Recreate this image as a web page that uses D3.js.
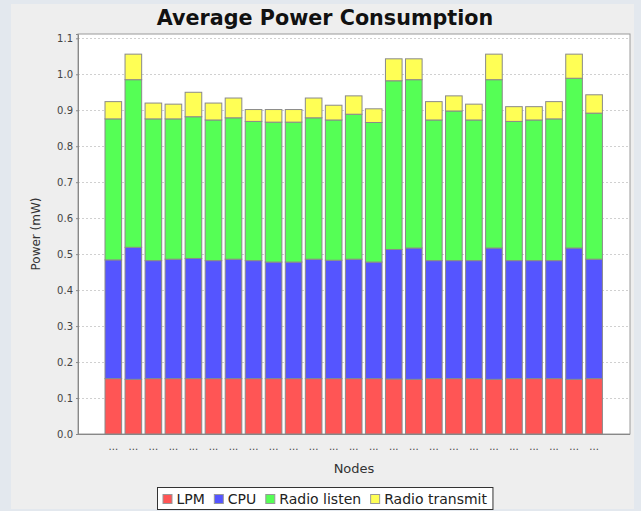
<!DOCTYPE html>
<html>
<head>
<meta charset="utf-8">
<script src="https://cdn.jsdelivr.net/npm/d3@7"></script>
<style>
  html, body { margin: 0; padding: 0; background: #e3e8ee; }
  svg { display: block; font-family: "DejaVu Sans", sans-serif; }
</style>
</head>
<body>
<div id="chart"></div>
<script>
// one entry per node, tick labels are truncated in the original
const nodes = d3.range(25).map(i => "node" + (i + 1));
const tickLabels = nodes.map(() => "...");
const seriesNames = ["LPM", "CPU", "Radio listen", "Radio transmit"];
const lpm = [0.154, 0.152, 0.154, 0.154, 0.154, 0.154, 0.154, 0.154, 0.154, 0.154, 0.154, 0.154, 0.154,
  0.154, 0.153, 0.152, 0.154, 0.154, 0.154, 0.152, 0.154, 0.154, 0.154, 0.152, 0.154];
const cpu = [0.330, 0.367, 0.328, 0.332, 0.334, 0.328, 0.332, 0.328, 0.324, 0.324, 0.332, 0.329, 0.332,
  0.324, 0.360, 0.365, 0.328, 0.328, 0.328, 0.365, 0.328, 0.328, 0.328, 0.365, 0.332];
const listen = [0.392, 0.466, 0.394, 0.390, 0.394, 0.391, 0.393, 0.387, 0.389, 0.389, 0.393, 0.390, 0.403,
  0.388, 0.469, 0.468, 0.391, 0.416, 0.391, 0.468, 0.387, 0.391, 0.394, 0.472, 0.406];
const transmit = [0.048, 0.071, 0.044, 0.041, 0.068, 0.047, 0.055, 0.033, 0.035, 0.035, 0.055, 0.041, 0.051,
  0.038, 0.061, 0.058, 0.051, 0.042, 0.044, 0.071, 0.041, 0.037, 0.048, 0.067, 0.051];
const yTicks = [0, 0.1, 0.2, 0.3, 0.4, 0.5, 0.6, 0.7, 0.8, 0.9, 1.0, 1.1];

(function () {
  const width = 641;
  const height = 511;
  const colors = ["#ff5555", "#5555ff", "#55ff55", "#ffff55"];
  const plot = { left: 78, right: 630, top: 34, bottom: 434 };

  const svg = d3.select("#chart").append("svg").attr("width", width).attr("height", height);

  // panel background
  svg.append("rect").attr("x", 0).attr("y", 0).attr("width", width).attr("height", height).attr("fill", "#e3e8ee");
  svg.append("rect").attr("x", 11).attr("y", 4).attr("width", 623).attr("height", 505).attr("fill", "#eeeeee");

  const table = nodes.map((n, i) => ({ node: n, LPM: lpm[i], CPU: cpu[i], "Radio listen": listen[i], "Radio transmit": transmit[i] }));
  const stacked = d3.stack().keys(seriesNames)(table);

  const x = d3.scaleBand().domain(nodes).range([103.3, 604.1]).paddingInner(0.17).paddingOuter(0.085);
  const y = d3.scaleLinear().domain([0, 1.112]).range([plot.bottom, plot.top]);

  svg.append("rect")
    .attr("x", plot.left).attr("y", plot.top)
    .attr("width", plot.right - plot.left).attr("height", plot.bottom - plot.top)
    .attr("fill", "white").attr("stroke", "#9a9a9a");

  // gridlines
  svg.append("g")
    .selectAll("line")
    .data(yTicks)
    .join("line")
    .attr("x1", plot.left).attr("x2", plot.right)
    .attr("y1", d => Math.round(y(d)) + 0.5).attr("y2", d => Math.round(y(d)) + 0.5)
    .attr("stroke", "#d0d0d0").attr("stroke-dasharray", "2,2");

  svg.append("g")
    .selectAll("g")
    .data(stacked)
    .join("g")
    .attr("fill", (d, i) => colors[i])
    .selectAll("rect")
    .data(d => d)
    .join("rect")
    .attr("x", d => x(d.data.node))
    .attr("y", d => y(d[1]))
    .attr("width", x.bandwidth())
    .attr("height", d => y(d[0]) - y(d[1]))
    .attr("stroke", "#8a8a8a")
    .attr("stroke-width", 1);

  // y axis
  const yAxis = svg.append("g")
    .attr("transform", `translate(${plot.left},0)`)
    .call(d3.axisLeft(y).tickValues(yTicks).tickFormat(d3.format(".1f")).tickSize(2).tickPadding(3));
  yAxis.select(".domain").attr("stroke", "#888");
  yAxis.selectAll(".tick line").attr("stroke", "#888");
  yAxis.selectAll("text").attr("font-size", "10px").attr("fill", "#444").attr("font-family", "DejaVu Sans");

  // x axis
  const xAxis = svg.append("g")
    .attr("transform", `translate(0,${plot.bottom})`)
    .call(d3.axisBottom(x).tickFormat((d, i) => tickLabels[i]).tickSize(0).tickPadding(9));
  xAxis.select(".domain").attr("stroke", "#888").attr("d", `M${plot.left},0.5H${plot.right}`);
  xAxis.selectAll("text").attr("font-size", "10px").attr("fill", "#444").attr("font-family", "DejaVu Sans");

  svg.append("text")
    .attr("x", 325).attr("y", 25)
    .attr("text-anchor", "middle")
    .attr("font-size", "20.7px").attr("font-weight", "bold").attr("fill", "#111")
    .text("Average Power Consumption");

  svg.append("text")
    .attr("transform", `translate(40,${(plot.top + plot.bottom) / 2}) rotate(-90)`)
    .attr("text-anchor", "middle")
    .attr("font-size", "12px").attr("fill", "#333")
    .text("Power (mW)");

  svg.append("text")
    .attr("x", (plot.left + plot.right) / 2).attr("y", 473)
    .attr("text-anchor", "middle")
    .attr("font-size", "13px").attr("fill", "#333")
    .text("Nodes");

  // legend, laid out from measured text, centred under the panel
  const legend = svg.append("g");
  const box = legend.append("rect")
    .attr("y", 487.5).attr("height", 22)
    .attr("fill", "white").attr("stroke", "#333");
  const items = legend.selectAll(".item")
    .data(seriesNames)
    .join("g")
    .attr("class", "item");
  let cursor = 5;
  items.each(function (d, i) {
    const it = d3.select(this);
    it.append("rect")
      .attr("x", cursor + 0.5).attr("y", 494.5).attr("width", 9).attr("height", 9)
      .attr("fill", colors[i]).attr("stroke", "#999");
    const t = it.append("text")
      .attr("x", cursor + 14).attr("y", 504)
      .attr("font-size", "14px").attr("fill", "#222")
      .text(d);
    cursor += 14 + t.node().getComputedTextLength() + (i < seriesNames.length - 1 ? 9 : 6);
  });
  const boxLeft = Math.round(325 - cursor / 2) + 0.5;
  box.attr("x", boxLeft).attr("width", cursor);
  items.attr("transform", `translate(${boxLeft},0)`);
})();
</script>
</body>
</html>
